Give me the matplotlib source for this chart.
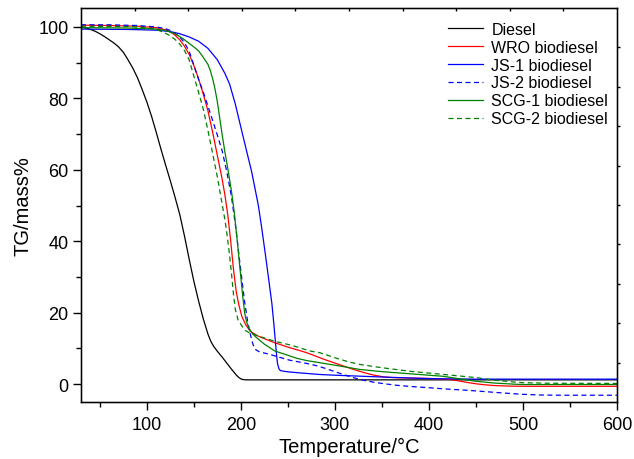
import matplotlib
matplotlib.use("Agg")
import matplotlib.pyplot as plt

plt.rcParams['font.family'] = ['Liberation Sans', 'DejaVu Sans']

# Diesel
diesel_t = [30, 35, 40, 45, 50, 55, 60, 65, 70, 75, 80, 85, 90, 95, 100, 105, 110, 115, 120, 125, 130, 135, 140, 145, 150,
            155, 160, 165, 168, 171, 175, 180, 185, 190, 195, 198, 201, 205, 600]
diesel_m = [100, 99.7, 99.3, 98.8, 98.1, 97.3, 96.4, 95.5, 94.4, 92.9, 90.8, 88.5, 85.8, 82.5, 79, 75, 70.5, 65.8, 61.3, 56.9, 52.3, 47.5, 41.5, 35, 28.8,
            23.3, 18.3, 14, 12, 10.6, 9.2, 7.6, 5.9, 4.2, 2.6, 1.8, 1.35, 1.2, 1.2]

# WRO biodiesel
wro_t = [30, 60, 90, 110, 120, 125, 130, 135, 140, 145, 150, 155, 160, 165, 170, 175, 180, 183, 186, 189, 192, 195, 198, 201, 205,
         210, 218, 228, 236, 252, 260, 270, 280, 290, 300, 310, 320, 330, 340, 350, 360, 380, 400, 420, 430, 440, 450, 460, 470, 485,
         500, 600]
wro_m = [100.5, 100.4, 100.2, 99.8, 99.2, 98.6, 97.7, 96.4, 94.6, 92.3, 89.2, 85.5, 81.2, 76.5, 70.5, 64, 57.5, 53, 47.5, 40.5, 32.5, 26, 22, 19, 16.7,
         14.8, 13.5, 12.4, 11.6, 10.2, 9.6, 8.8, 7.8, 6.8, 5.9, 5, 4.1, 3.3, 2.6, 2.1, 1.85, 1.7, 1.6, 1.35, 1.0, 0.5, 0.1, -0.2, -0.4, -0.55,
         -0.6, -0.6]

# JS-1 biodiesel
js1_t = [30, 80, 110, 125, 135, 145, 155, 165, 175, 183, 188, 194, 199, 204.5, 208, 211.6, 215, 218.6, 222, 225.7, 229, 233, 235, 236.5, 238,
         239, 240.5, 242, 247, 252, 265, 284, 300, 330, 360, 400, 450, 600]
js1_m = [99.4, 99.3, 99.1, 98.7, 98.1, 97.2, 96, 94, 90.8, 87, 84, 78.5, 73, 67, 63.2, 59.3, 54.8, 50, 44, 37, 30.5, 22.5, 17, 12.5, 8,
         5.7, 4.3, 3.8, 3.55, 3.4, 3.1, 2.7, 2.5, 2.2, 1.9, 1.55, 1.4, 1.4]

# JS-2 biodiesel
js2_t = [30, 60, 90, 110, 120, 125, 130, 135, 140, 145, 150, 155, 160, 165, 170, 175, 180, 185, 190, 195, 198, 201, 204, 207, 210,
         213, 216, 220, 230, 240, 252, 260, 270, 280, 290, 300, 310, 320, 330, 340, 350, 365, 380, 400, 420, 440, 460, 480,
         500, 520, 540, 600]
js2_m = [100.6, 100.6, 100.4, 100, 99.5, 99, 98.2, 97.2, 95.6, 93.2, 89.3, 85.3, 81.8, 77.8, 73.8, 69.7, 65.4, 59.5, 52.5, 43, 36, 29.5, 23, 17.8, 14,
         11, 9.6, 9.0, 8.4, 7.6, 6.7, 6.3, 5.8, 5.2, 4.4, 3.5, 2.6, 1.8, 1.1, 0.6, 0.2, -0.3, -0.65, -1.0, -1.4, -1.7, -2.1, -2.5,
         -2.85, -3.05, -3.1, -3.1]

# SCG-1 biodiesel
scg1_t = [30, 80, 110, 120, 130, 135, 140, 145, 150, 155, 160, 165, 167.5, 170, 172.5, 175, 180, 183, 186, 190, 193, 196, 199, 202, 204,
          206, 208, 211, 215, 219, 225, 236, 252, 260, 270, 284, 300, 327, 350, 380, 415, 430, 450, 470, 490, 500, 600]
scg1_m = [99.8, 99.7, 99.4, 99, 98.1, 97.3, 96.4, 95.4, 94.4, 93.3, 91.5, 89.5, 87.8, 85.5, 82.6, 79, 70, 65, 60.5, 54, 48, 40.5, 32.5, 24.5, 20,
          17.5, 16, 14.6, 13.4, 12.5, 11.2, 9.3, 7.9, 7.2, 6.6, 6.0, 5.3, 4.1, 3.5, 2.9, 2.2, 1.6, 0.8, 0.3, 0, -0.1, -0.1]

# SCG-2 biodiesel
scg2_t = [30, 80, 100, 110, 117, 125, 130, 135, 140, 145, 150, 155, 160, 165, 170, 175, 180, 183, 185, 188, 190, 192, 194, 197, 201,
          205, 210, 218, 236, 252, 260, 273, 284, 300, 315, 327, 350, 380, 400, 420, 440, 451, 470, 490, 500, 530, 600]
scg2_m = [100.2, 100.1, 99.8, 99.3, 98.6, 97.5, 96.5, 95.2, 93.4, 90.8, 86.2, 81.7, 77, 71, 64.5, 58, 50.5, 46, 42.5, 36, 31, 25.5, 21, 18, 16.3,
          15, 14.2, 13.5, 12, 11, 10.4, 9.3, 8.8, 7.4, 6.2, 5.5, 4.6, 3.6, 3.1, 2.6, 2.1, 1.8, 1.1, 0.6, 0.4, 0.25, 0.2]

fig = plt.figure(figsize=(6.34, 4.6), dpi=100)
ax = fig.add_axes([0.1278, 0.1239, 0.8454, 0.8565])

lw = 0.9
dash = (0, (4, 2.8))
ax.plot(diesel_t, diesel_m, color='black', lw=lw, label='Diesel')
ax.plot(wro_t, wro_m, color='#ff0000', lw=lw, label='WRO biodiesel')
ax.plot(js1_t, js1_m, color='#0000ff', lw=lw, label='JS-1 biodiesel')
ax.plot(js2_t, js2_m, color='#0000ff', lw=lw, ls=dash, label='JS-2 biodiesel')
ax.plot(scg1_t, scg1_m, color='#008000', lw=lw, label='SCG-1 biodiesel')
ax.plot(scg2_t, scg2_m, color='#008000', lw=lw, ls=dash, label='SCG-2 biodiesel')

ax.set_xlim(30, 600)
ax.set_ylim(-5, 105.3)
ax.set_xticks([100, 200, 300, 400, 500, 600])
ax.set_xticks([50, 150, 250, 350, 450, 550], minor=True)
ax.set_yticks([0, 20, 40, 60, 80, 100])
ax.set_yticks([10, 30, 50, 70, 90], minor=True)
ax.tick_params(which='major', direction='out', length=6, width=1, labelsize=13, pad=4)
ax.tick_params(which='minor', direction='out', length=3.5, width=1)
ax.tick_params(axis='y', pad=3)
ax.set_xlabel('Temperature/°C', fontsize=14.5, labelpad=3)
ax.set_ylabel('TG/mass%', fontsize=14.5, labelpad=4)
for s in ax.spines.values():
    s.set_linewidth(1.0)

# small ticks on top and right frame
axt = ax.twiny()
axt.set_xlim(0, 10)
axt.set_xticks(range(1, 10))
axt.tick_params(axis='x', direction='in', length=2, width=1, labeltop=False)
axr = ax.twinx()
axr.set_ylim(0, 10)
axr.set_yticks(range(1, 10))
axr.tick_params(axis='y', direction='out', length=2, width=1, labelright=False)

ax.legend(loc='upper left', bbox_to_anchor=(0.685, 0.965), frameon=False,
          fontsize=11.5, handlelength=2.2, handletextpad=0.5, labelspacing=0.18,
          borderpad=0, borderaxespad=0)

fig.savefig('out.png', dpi=100)
